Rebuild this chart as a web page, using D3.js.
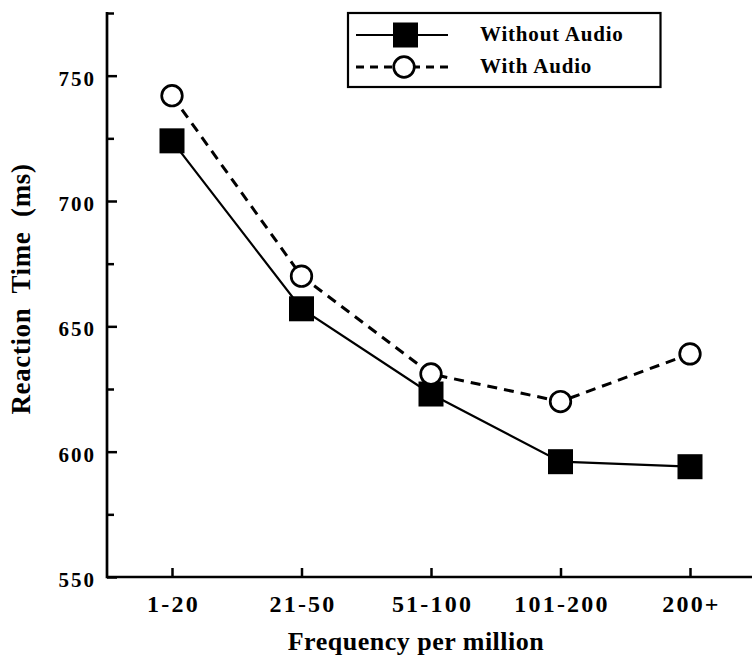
<!DOCTYPE html>
<html>
<head>
<meta charset="utf-8">
<script src="https://cdn.jsdelivr.net/npm/d3@7"></script>
<style>
  html, body { margin: 0; padding: 0; background: #fff; }
  svg { display: block; }
  text { font-family: "Liberation Serif", "Times New Roman", Times, serif; font-weight: bold; fill: #000; }
</style>
</head>
<body>
<svg id="chart" width="756" height="659"></svg>
<script>
const categories = ["1-20", "21-50", "51-100", "101-200", "200+"];
const withoutAudio = [724, 657, 623, 596, 594];
const withAudio = [742, 670, 631, 620, 639];
const yTicks = [550, 600, 650, 700, 750];
const yMinorTicks = [575, 625, 675, 725, 775];
const seriesNames = ["Without Audio", "With Audio"];
const yTitle = "Reaction  Time  (ms)";
const xTitle = "Frequency per million";

const svg = d3.select("#chart");
const x = d3.scalePoint().domain(categories).range([172, 690]);
const y = d3.scaleLinear().domain([550, 775]).range([577, 13]);
const axisX0 = 107, axisX1 = 752;
const serif = '"Liberation Serif", "Times New Roman", Times, serif';

// Y axis
const yAxis = svg.append("g").attr("transform", `translate(${axisX0},0)`)
  .call(d3.axisLeft(y).tickValues(yTicks).tickSizeInner(-10).tickSizeOuter(0).tickPadding(11).tickFormat(d3.format("d")))
  .attr("font-family", serif);
yAxis.select(".domain").remove();
yAxis.selectAll(".tick line").attr("stroke", "#000").attr("stroke-width", 2.5);
yAxis.selectAll(".tick text").attr("font-size", 21).attr("letter-spacing", 2).attr("dy", "0.45em")
  .style("font-family", serif).style("font-weight", "bold");

const yMinor = svg.append("g").attr("transform", `translate(${axisX0},0)`)
  .call(d3.axisLeft(y).tickValues(yMinorTicks).tickSizeInner(-7).tickSizeOuter(0).tickFormat(""));
yMinor.select(".domain").remove();
yMinor.selectAll(".tick line").attr("stroke", "#000").attr("stroke-width", 2.5);

// X axis
const xAxis = svg.append("g").attr("transform", `translate(0,${y(550)})`)
  .call(d3.axisBottom(x).tickSizeInner(-9).tickSizeOuter(0).tickPadding(18))
  .attr("font-family", serif);
xAxis.select(".domain").remove();
xAxis.selectAll(".tick text").attr("dx", 1);
xAxis.selectAll(".tick line").attr("stroke", "#000").attr("stroke-width", 2.5);
xAxis.selectAll(".tick text").attr("font-size", 24).attr("letter-spacing", 2.2)
  .style("font-family", serif).style("font-weight", "bold");

// axis lines
svg.append("line").attr("x1", axisX0).attr("x2", axisX0).attr("y1", y(775) - 1).attr("y2", y(550) + 1.3)
  .attr("stroke", "#000").attr("stroke-width", 2.7);
svg.append("line").attr("x1", axisX0).attr("x2", axisX1).attr("y1", y(550)).attr("y2", y(550))
  .attr("stroke", "#000").attr("stroke-width", 2.7);

// titles
svg.append("text").attr("transform", `translate(29.5,289) rotate(-90)`)
  .attr("text-anchor", "middle").attr("font-size", 27).attr("letter-spacing", 0.6)
  .style("white-space", "pre").text(yTitle);
svg.append("text").attr("x", 416).attr("y", 650).attr("text-anchor", "middle")
  .attr("font-size", 26).attr("letter-spacing", 0.5).text(xTitle);

// lines
const line = d3.line().x((d, i) => x(categories[i])).y(d => y(d));
svg.append("path").datum(withoutAudio).attr("d", line).attr("fill", "none")
  .attr("stroke", "#000").attr("stroke-width", 2.2);
svg.append("path").datum(withAudio).attr("d", line).attr("fill", "none")
  .attr("stroke", "#000").attr("stroke-width", 3).attr("stroke-dasharray", "10,7");

// markers
const sq = 25;
svg.append("g").selectAll("rect").data(withoutAudio).join("rect")
  .attr("x", (d, i) => x(categories[i]) - sq / 2).attr("y", d => y(d) - sq / 2)
  .attr("width", sq).attr("height", sq).attr("fill", "#000");
svg.append("g").selectAll("circle").data(withAudio).join("circle")
  .attr("cx", (d, i) => x(categories[i])).attr("cy", d => y(d)).attr("r", 10.3)
  .attr("fill", "#fff").attr("stroke", "#000").attr("stroke-width", 2.7);

// legend
const lg = svg.append("g");
lg.append("rect").attr("x", 348).attr("y", 13).attr("width", 312.5).attr("height", 74)
  .attr("fill", "#fff").attr("stroke", "#000").attr("stroke-width", 2.2);
lg.append("line").attr("x1", 356).attr("x2", 448).attr("y1", 35).attr("y2", 35)
  .attr("stroke", "#000").attr("stroke-width", 2.2);
lg.append("rect").attr("x", 405.5 - sq / 2).attr("y", 35 - sq / 2).attr("width", sq).attr("height", sq).attr("fill", "#000");
lg.append("line").attr("x1", 356).attr("x2", 448).attr("y1", 67).attr("y2", 67)
  .attr("stroke", "#000").attr("stroke-width", 3).attr("stroke-dasharray", "8,6");
lg.append("circle").attr("cx", 404).attr("cy", 67).attr("r", 10.3)
  .attr("fill", "#fff").attr("stroke", "#000").attr("stroke-width", 2.7);
lg.append("text").attr("x", 480).attr("y", 41).attr("font-size", 21).attr("letter-spacing", 0.8).text(seriesNames[0]);
lg.append("text").attr("x", 480).attr("y", 72.5).attr("font-size", 21).attr("letter-spacing", 0.8).text(seriesNames[1]);
</script>
</body>
</html>
